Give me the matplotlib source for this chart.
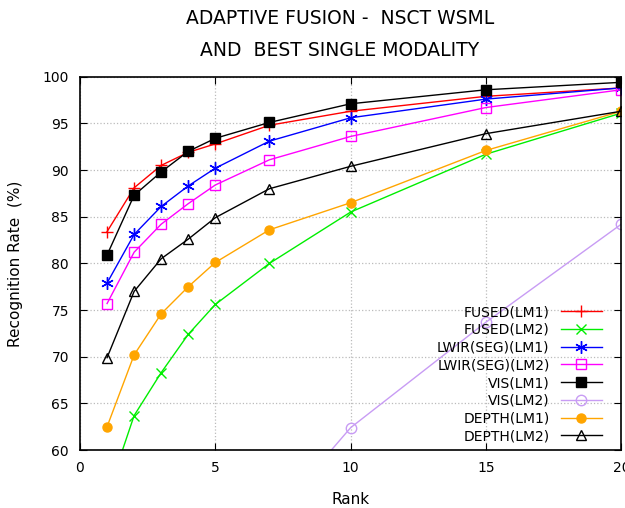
import matplotlib
matplotlib.use("Agg")
import matplotlib.pyplot as plt

ranks = [1, 2, 3, 4, 5, 7, 10, 15, 20]
fused_lm1 = [83.4, 88.1, 90.5, 91.9, 92.8, 94.8, 96.3, 97.9, 98.8]
fused_lm2 = [55.1, 63.7, 68.3, 72.4, 75.6, 80.0, 85.5, 91.7, 96.1]
lwir_lm1 = [77.9, 83.1, 86.1, 88.3, 90.2, 93.1, 95.6, 97.6, 98.8]
lwir_lm2 = [75.7, 81.2, 84.2, 86.4, 88.4, 91.1, 93.6, 96.7, 98.6]
vis_lm1 = [80.9, 87.3, 89.8, 92.0, 93.4, 95.1, 97.1, 98.6, 99.4]
vis_lm2_ranks = [7, 10, 15, 20]
vis_lm2 = [52.3, 62.4, 73.7, 84.2]
depth_lm1 = [62.5, 70.2, 74.6, 77.5, 80.1, 83.6, 86.5, 92.1, 96.3]
depth_lm2 = [69.9, 77.0, 80.5, 82.6, 84.9, 88.0, 90.4, 93.9, 96.3]

labels = ["FUSED(LM1)", "FUSED(LM2)", "LWIR(SEG)(LM1)", "LWIR(SEG)(LM2)",
          "VIS(LM1)", "VIS(LM2)", "DEPTH(LM1)", "DEPTH(LM2)"]

fig = plt.figure(figsize=(6.25, 5.08), dpi=100)
ax = fig.add_axes([0.128, 0.114, 0.866, 0.735])

lw = 1.0
ax.plot(ranks, fused_lm1, color="#ff0000", lw=lw, marker="+", ms=9, mew=1.0, label=labels[0])
ax.plot(ranks, fused_lm2, color="#00ee00", lw=lw, marker="x", ms=7, mew=1.0, label=labels[1])
ax.plot(ranks, lwir_lm1, color="#0000ff", lw=lw, marker=(6, 2, 0), ms=9, mew=1.0, label=labels[2])
ax.plot(ranks, lwir_lm2, color="#ff00ff", lw=lw, marker="s", ms=7.5, mew=1.0, mfc="none", label=labels[3])
ax.plot(ranks, vis_lm1, color="#000000", lw=lw, marker="s", ms=6.5, label=labels[4])
ax.plot(vis_lm2_ranks, vis_lm2, color="#c89cf4", lw=lw, marker="o", ms=7.5, mew=1.0, mfc="none", label=labels[5])
ax.plot(ranks, depth_lm1, color="#ffa500", lw=lw, marker="o", ms=6.5, label=labels[6])
ax.plot(ranks, depth_lm2, color="#000000", lw=lw, marker="^", ms=7.5, mew=1.0, mfc="none", label=labels[7])

ax.set_xlim(0, 20)
ax.set_ylim(60, 100)
ax.set_xticks([0, 5, 10, 15, 20])
ax.set_yticks(range(60, 101, 5))
ax.tick_params(direction="in", top=True, right=True, labelsize=10, length=5, pad=8)
ax.grid(True, color="#bbbbbb", linestyle=":", linewidth=0.9)
for s in ax.spines.values():
    s.set_linewidth(1.2)

ax.set_xlabel("Rank", fontsize=11, labelpad=12)
ax.set_ylabel("Recognition Rate  (%)", fontsize=11, labelpad=14)

fig.text(0.544, 0.963, "ADAPTIVE FUSION -  NSCT WSML", ha="center", va="center", fontsize=13.5)
fig.text(0.544, 0.900, "AND  BEST SINGLE MODALITY", ha="center", va="center", fontsize=13.5)

leg = ax.legend(loc="lower right", bbox_to_anchor=(0.983, -0.008), frameon=False,
                markerfirst=False, fontsize=10, handlelength=3.0, labelspacing=0.27,
                borderaxespad=0.3, handletextpad=0.8)
for t in leg.get_texts():
    t.set_ha("right")
for vp in leg._legend_handle_box.get_children():
    vp.align = "right"

fig.savefig("out.png", dpi=100)
